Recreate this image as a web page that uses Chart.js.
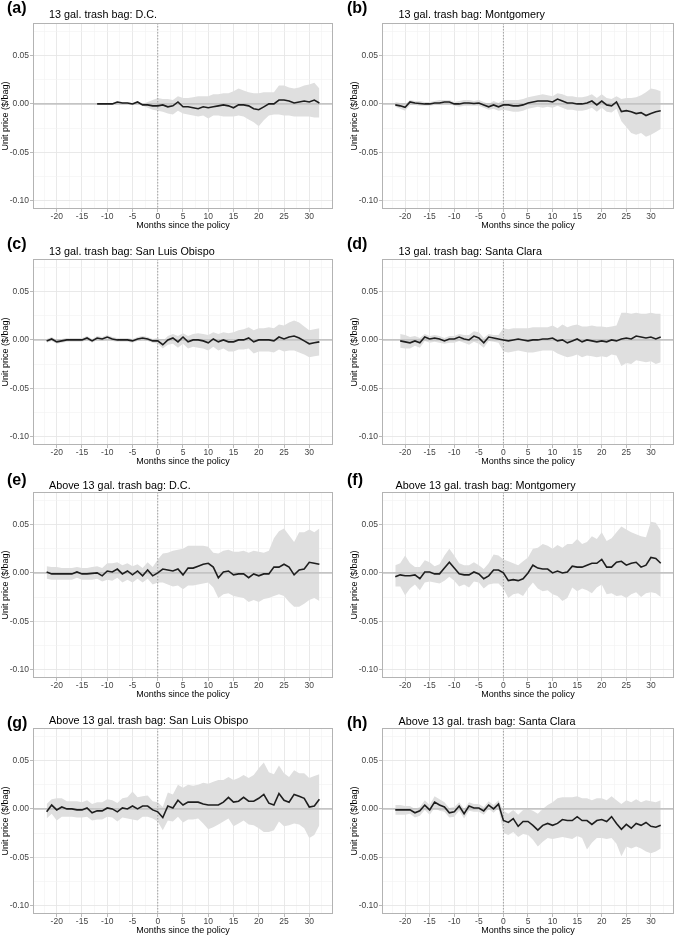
<!DOCTYPE html>
<html>
<head>
<meta charset="utf-8">
<script src="https://cdn.jsdelivr.net/npm/chart.js@4.4.1/dist/chart.umd.min.js"></script>
<style>
    html, body { margin: 0; padding: 0; background: #fff; overflow: hidden; }
    body { width: 685px; height: 936px; position: relative; }
    .panel { position: absolute; }
</style>
</head>
<body>
<script>
// months relative to the policy (all series end at month 32)
const MONTHS = [-22, -21, -20, -19, -18, -17, -16, -15, -14, -13, -12, -11, -10, -9, -8, -7, -6, -5, -4, -3, -2, -1,
    0, 1, 2, 3, 4, 5, 6, 7, 8, 9, 10, 11, 12, 13, 14, 15, 16, 17, 18, 19, 20, 21, 22, 23, 24, 25, 26, 27, 28, 29, 30, 31, 32];

const X_MAJOR = [-20, -15, -10, -5, 0, 5, 10, 15, 20, 25, 30];
const X_MINOR = [-22.5, -17.5, -12.5, -7.5, -2.5, 2.5, 7.5, 12.5, 17.5, 22.5, 27.5, 32.5];
const Y_MAJOR = [-0.10, -0.05, 0, 0.05];
const Y_MINOR = [-0.075, -0.025, 0.025, 0.075];
const X_RANGE = [-24.7, 34.7];
const Y_RANGE = [-0.10875, 0.08375];

const LETTERS = ["(a)", "(b)", "(c)", "(d)", "(e)", "(f)", "(g)", "(h)"];
const TITLES = [
    "13 gal. trash bag: D.C.",
    "13 gal. trash bag: Montgomery",
    "13 gal. trash bag: San Luis Obispo",
    "13 gal. trash bag: Santa Clara",
    "Above 13 gal. trash bag: D.C.",
    "Above 13 gal. trash bag: Montgomery",
    "Above 13 gal. trash bag: San Luis Obispo",
    "Above 13 gal. trash bag: Santa Clara",
];

// (a) starts at month -12
const A_EST = [0.000, 0.000, 0.000, 0.000, 0.002, 0.001, 0.001, 0.000, 0.002, -0.001,
    -0.001, -0.002, -0.002, -0.001, -0.003, -0.002, 0.002, -0.003, -0.003, -0.004, -0.005, -0.003, -0.004, -0.003, -0.002, -0.001, -0.002, -0.004, -0.001, -0.001, -0.002, -0.005, -0.006, -0.003, 0.000, 0.000, 0.004, 0.004, 0.003, 0.001, 0.002, 0.003, 0.002, 0.004, 0.001];
const A_LO = [-0.001, -0.001, -0.001, -0.001, 0.001, 0.000, 0.000, -0.001, 0.001, -0.002,
    -0.004, -0.006, -0.007, -0.008, -0.010, -0.011, -0.007, -0.010, -0.011, -0.012, -0.013, -0.012, -0.015, -0.012, -0.012, -0.013, -0.013, -0.013, -0.012, -0.013, -0.016, -0.019, -0.023, -0.017, -0.012, -0.011, -0.011, -0.012, -0.012, -0.013, -0.013, -0.013, -0.013, -0.014, -0.014];
const A_HI = [0.001, 0.001, 0.001, 0.001, 0.003, 0.002, 0.002, 0.001, 0.003, 0.000,
    0.002, 0.004, 0.006, 0.005, 0.005, 0.004, 0.008, 0.006, 0.006, 0.007, 0.008, 0.008, 0.008, 0.010, 0.010, 0.011, 0.011, 0.013, 0.016, 0.014, 0.012, 0.011, 0.011, 0.012, 0.012, 0.012, 0.019, 0.019, 0.017, 0.016, 0.017, 0.019, 0.020, 0.022, 0.016];

const B_EST = [-0.001, -0.002, -0.0035, 0.002, 0.001, 0.0005, 0.000, 0.000, 0.001, 0.001, 0.002, 0.002, 0.000, 0.000, 0.001, 0.001, 0.0005, 0.001, -0.001, -0.003, -0.001, -0.003,
    -0.001, -0.001, -0.002, -0.002, -0.001, 0.001, 0.002, 0.003, 0.003, 0.003, 0.002, 0.005, 0.003, 0.001, 0.001, 0.000, 0.000, 0.001, 0.003, -0.001, 0.003, -0.001, -0.002, 0.002, -0.008, -0.007, -0.008, -0.010, -0.009, -0.012, -0.010, -0.008, -0.007];
const B_LO = [-0.003, -0.005, -0.007, -0.001, -0.001, -0.002, -0.002, -0.002, -0.001, -0.001, 0.000, 0.000, -0.002, -0.003, -0.002, -0.002, -0.002, -0.002, -0.004, -0.006, -0.005, -0.007,
    -0.006, -0.007, -0.008, -0.008, -0.007, -0.005, -0.004, -0.003, -0.004, -0.003, -0.004, -0.002, -0.004, -0.006, -0.006, -0.007, -0.007, -0.006, -0.004, -0.008, -0.004, -0.008, -0.009, -0.005, -0.018, -0.024, -0.030, -0.032, -0.030, -0.034, -0.032, -0.029, -0.026];
const B_HI = [0.002, 0.001, 0.000, 0.004, 0.003, 0.003, 0.002, 0.002, 0.003, 0.004, 0.004, 0.004, 0.002, 0.003, 0.004, 0.004, 0.003, 0.004, 0.002, 0.000, 0.003, 0.001,
    0.004, 0.004, 0.004, 0.004, 0.005, 0.007, 0.008, 0.009, 0.010, 0.009, 0.008, 0.011, 0.010, 0.008, 0.008, 0.007, 0.007, 0.008, 0.010, 0.006, 0.010, 0.006, 0.005, 0.008, 0.005, 0.006, 0.006, 0.007, 0.009, 0.012, 0.016, 0.015, 0.013];

const C_EST = [-0.001, 0.001, -0.002, -0.001, 0.000, 0.000, 0.000, 0.000, 0.002, -0.001, 0.002, 0.001, 0.003, 0.001, 0.000, 0.000, 0.000, -0.001, 0.001, 0.002, 0.001, -0.001,
    -0.001, -0.005, 0.000, 0.002, -0.002, 0.003, -0.002, 0.000, 0.000, -0.001, -0.003, 0.001, -0.002, 0.000, -0.002, -0.002, 0.000, 0.000, 0.002, -0.002, 0.000, 0.000, 0.000, -0.001, 0.003, 0.001, 0.003, 0.004, 0.002, -0.001, -0.004, -0.003, -0.002];
const C_LO = [-0.003, -0.001, -0.004, -0.003, -0.002, -0.002, -0.002, -0.002, 0.000, -0.003, 0.000, -0.001, 0.001, -0.001, -0.002, -0.002, -0.002, -0.003, -0.001, 0.000, -0.001, -0.003,
    -0.004, -0.009, -0.005, -0.004, -0.008, -0.004, -0.009, -0.007, -0.008, -0.009, -0.011, -0.007, -0.011, -0.009, -0.012, -0.012, -0.010, -0.010, -0.009, -0.014, -0.012, -0.012, -0.012, -0.013, -0.010, -0.012, -0.011, -0.011, -0.013, -0.015, -0.018, -0.017, -0.016];
const C_HI = [0.001, 0.003, 0.000, 0.001, 0.002, 0.002, 0.002, 0.002, 0.004, 0.001, 0.004, 0.003, 0.005, 0.003, 0.002, 0.002, 0.002, 0.001, 0.003, 0.004, 0.003, 0.001,
    0.002, -0.001, 0.004, 0.006, 0.004, 0.007, 0.004, 0.006, 0.007, 0.006, 0.005, 0.008, 0.006, 0.008, 0.007, 0.008, 0.010, 0.011, 0.013, 0.010, 0.012, 0.012, 0.013, 0.012, 0.016, 0.015, 0.018, 0.020, 0.018, 0.014, 0.010, 0.011, 0.012];

// (d) starts at month -21
const D_EST = [-0.001, -0.002, -0.003, -0.001, -0.003, 0.003, 0.001, 0.002, 0.001, -0.001, 0.001, 0.001, 0.003, 0.001, 0.000, 0.004, 0.002, -0.003, 0.003, 0.002, 0.001,
    0.000, -0.001, 0.000, 0.001, 0.000, -0.001, 0.000, 0.000, 0.001, 0.001, 0.002, -0.001, 0.000, -0.003, -0.001, 0.001, -0.002, 0.000, -0.001, -0.002, -0.001, -0.002, 0.000, -0.001, 0.001, 0.002, 0.001, 0.004, 0.003, 0.002, 0.003, 0.001, 0.003];
const D_LO = [-0.008, -0.009, -0.009, -0.006, -0.008, -0.001, -0.003, -0.002, -0.003, -0.004, -0.003, -0.003, -0.001, -0.003, -0.005, -0.002, -0.004, -0.008, -0.001, -0.002, -0.003,
    -0.012, -0.013, -0.012, -0.011, -0.012, -0.013, -0.013, -0.012, -0.011, -0.011, -0.011, -0.014, -0.016, -0.018, -0.017, -0.015, -0.018, -0.016, -0.017, -0.018, -0.017, -0.018, -0.015, -0.016, -0.027, -0.024, -0.025, -0.021, -0.022, -0.023, -0.022, -0.025, -0.023];
const D_HI = [0.006, 0.005, 0.003, 0.004, 0.002, 0.006, 0.004, 0.005, 0.004, 0.002, 0.004, 0.004, 0.006, 0.005, 0.005, 0.009, 0.008, 0.002, 0.006, 0.005, 0.005,
    0.012, 0.011, 0.012, 0.012, 0.012, 0.012, 0.013, 0.013, 0.013, 0.013, 0.015, 0.012, 0.016, 0.013, 0.015, 0.016, 0.014, 0.014, 0.015, 0.014, 0.014, 0.013, 0.014, 0.015, 0.028, 0.028, 0.027, 0.028, 0.027, 0.027, 0.028, 0.027, 0.027];

const E_EST = [0.001, -0.001, -0.001, -0.001, -0.001, -0.001, 0.001, -0.001, -0.001, -0.0005, 0.000, -0.003, 0.002, 0.001, 0.004, -0.001, 0.002, -0.002, 0.002, -0.003, 0.003, -0.003,
    0.000, 0.004, 0.003, 0.002, 0.004, -0.002, 0.005, 0.005, 0.007, 0.009, 0.010, 0.006, -0.005, 0.001, 0.002, -0.002, -0.001, -0.001, -0.005, -0.001, -0.003, -0.001, -0.001, 0.006, 0.006, 0.009, 0.006, -0.002, 0.003, 0.004, 0.011, 0.010, 0.009];
const E_LO = [-0.006, -0.007, -0.007, -0.007, -0.007, -0.007, -0.005, -0.007, -0.007, -0.007, -0.006, -0.009, -0.007, -0.008, -0.005, -0.010, -0.007, -0.010, -0.006, -0.010, -0.006, -0.012,
    -0.010, -0.010, -0.012, -0.014, -0.013, -0.017, -0.013, -0.013, -0.012, -0.011, -0.010, -0.015, -0.026, -0.022, -0.021, -0.024, -0.025, -0.026, -0.030, -0.028, -0.030, -0.027, -0.026, -0.024, -0.022, -0.024, -0.030, -0.035, -0.035, -0.032, -0.028, -0.026, -0.029];
const E_HI = [0.007, 0.006, 0.006, 0.005, 0.005, 0.005, 0.006, 0.005, 0.005, 0.006, 0.007, 0.005, 0.010, 0.010, 0.011, 0.008, 0.010, 0.007, 0.009, 0.005, 0.011, 0.006,
    0.014, 0.020, 0.021, 0.023, 0.024, 0.025, 0.028, 0.028, 0.028, 0.028, 0.027, 0.021, 0.020, 0.023, 0.024, 0.022, 0.022, 0.023, 0.021, 0.023, 0.022, 0.021, 0.023, 0.036, 0.043, 0.046, 0.039, 0.032, 0.042, 0.042, 0.045, 0.042, 0.046];

const F_EST = [-0.004, -0.002, -0.003, -0.003, -0.002, -0.006, 0.001, 0.001, -0.001, -0.001, 0.005, 0.011, 0.005, -0.001, -0.002, -0.002, 0.001, -0.001, -0.006, -0.003, 0.003, 0.003,
    0.000, -0.008, -0.007, -0.008, -0.006, 0.000, 0.008, 0.005, 0.004, 0.004, 0.000, 0.002, 0.000, 0.001, 0.007, 0.006, 0.006, 0.008, 0.010, 0.010, 0.014, 0.006, 0.006, 0.011, 0.012, 0.008, 0.010, 0.011, 0.006, 0.008, 0.016, 0.015, 0.010];
const F_LO = [-0.014, -0.014, -0.023, -0.016, -0.012, -0.018, -0.010, -0.009, -0.010, -0.011, -0.008, -0.004, -0.008, -0.014, -0.012, -0.015, -0.009, -0.010, -0.016, -0.012, -0.011, -0.011,
    -0.016, -0.026, -0.022, -0.021, -0.024, -0.016, -0.010, -0.016, -0.019, -0.018, -0.022, -0.024, -0.029, -0.026, -0.015, -0.019, -0.016, -0.018, -0.021, -0.015, -0.012, -0.022, -0.021, -0.024, -0.023, -0.026, -0.022, -0.020, -0.025, -0.021, -0.020, -0.021, -0.025];
const F_HI = [0.008, 0.010, 0.018, 0.010, 0.006, 0.006, 0.013, 0.011, 0.007, 0.009, 0.018, 0.025, 0.018, 0.010, 0.008, 0.008, 0.011, 0.008, 0.004, 0.010, 0.019, 0.018,
    0.014, 0.012, 0.010, 0.008, 0.012, 0.016, 0.025, 0.026, 0.030, 0.028, 0.025, 0.029, 0.026, 0.030, 0.030, 0.035, 0.030, 0.032, 0.038, 0.035, 0.042, 0.033, 0.036, 0.042, 0.048, 0.045, 0.042, 0.040, 0.038, 0.037, 0.053, 0.052, 0.044];

const G_EST = [-0.003, 0.004, -0.001, 0.002, 0.000, 0.000, -0.001, -0.001, 0.001, -0.004, -0.002, -0.002, 0.001, 0.000, -0.003, 0.001, 0.000, 0.003, 0.000, 0.003, 0.003, -0.001,
    -0.003, -0.009, 0.003, 0.001, 0.009, 0.004, 0.007, 0.007, 0.007, 0.005, 0.004, 0.004, 0.004, 0.007, 0.012, 0.007, 0.008, 0.012, 0.008, 0.008, 0.011, 0.015, 0.006, 0.004, 0.016, 0.009, 0.007, 0.015, 0.013, 0.011, 0.002, 0.003, 0.010];
const G_LO = [-0.010, -0.005, -0.012, -0.008, -0.008, -0.008, -0.009, -0.009, -0.008, -0.012, -0.011, -0.011, -0.008, -0.009, -0.013, -0.009, -0.010, -0.011, -0.012, -0.008, -0.008, -0.010,
    -0.013, -0.022, -0.012, -0.013, -0.008, -0.014, -0.011, -0.011, -0.010, -0.015, -0.021, -0.019, -0.016, -0.013, -0.010, -0.018, -0.015, -0.012, -0.016, -0.017, -0.020, -0.024, -0.024, -0.022, -0.013, -0.018, -0.017, -0.015, -0.016, -0.020, -0.030, -0.027, -0.017];
const G_HI = [0.005, 0.010, 0.011, 0.011, 0.008, 0.008, 0.008, 0.007, 0.009, 0.005, 0.007, 0.007, 0.010, 0.009, 0.006, 0.011, 0.012, 0.018, 0.012, 0.013, 0.014, 0.008,
    0.007, 0.002, 0.017, 0.015, 0.025, 0.022, 0.025, 0.024, 0.025, 0.027, 0.026, 0.028, 0.030, 0.030, 0.033, 0.030, 0.032, 0.035, 0.032, 0.035, 0.042, 0.048, 0.038, 0.036, 0.045, 0.037, 0.033, 0.040, 0.037, 0.037, 0.032, 0.034, 0.036];

const H_EST = [-0.001, -0.001, -0.001, -0.001, -0.004, -0.002, 0.004, -0.001, 0.007, 0.004, 0.002, -0.004, -0.003, 0.003, -0.005, 0.003, 0.001, 0.001, -0.002, 0.004, 0.000, 0.005,
    -0.012, -0.014, -0.010, -0.018, -0.013, -0.013, -0.017, -0.022, -0.017, -0.015, -0.017, -0.015, -0.011, -0.012, -0.012, -0.008, -0.012, -0.012, -0.016, -0.012, -0.011, -0.013, -0.008, -0.015, -0.021, -0.016, -0.020, -0.015, -0.017, -0.014, -0.018, -0.019, -0.017];
const H_LO = [-0.006, -0.006, -0.006, -0.005, -0.009, -0.007, -0.001, -0.006, 0.001, -0.002, -0.003, -0.009, -0.008, -0.002, -0.010, -0.002, -0.003, -0.003, -0.006, 0.000, -0.004, 0.001,
    -0.025, -0.027, -0.024, -0.029, -0.026, -0.027, -0.032, -0.039, -0.034, -0.030, -0.031, -0.030, -0.029, -0.030, -0.031, -0.028, -0.030, -0.042, -0.035, -0.030, -0.030, -0.031, -0.030, -0.036, -0.049, -0.039, -0.041, -0.039, -0.041, -0.044, -0.046, -0.044, -0.041];
const H_HI = [0.004, 0.004, 0.003, 0.003, 0.000, 0.002, 0.009, 0.004, 0.013, 0.010, 0.007, 0.001, 0.002, 0.007, 0.000, 0.007, 0.005, 0.005, 0.002, 0.008, 0.004, 0.009,
    -0.002, -0.005, -0.001, -0.006, -0.001, 0.000, -0.002, -0.005, 0.000, 0.004, 0.007, 0.011, 0.012, 0.012, 0.012, 0.013, 0.011, 0.011, 0.009, 0.011, 0.011, 0.009, 0.013, 0.009, 0.005, 0.009, 0.007, 0.010, 0.007, 0.009, 0.008, 0.007, 0.009];

const SERIES = [
    [A_EST, A_LO, A_HI], [B_EST, B_LO, B_HI],
    [C_EST, C_LO, C_HI], [D_EST, D_LO, D_HI],
    [E_EST, E_LO, E_HI], [F_EST, F_LO, F_HI],
    [G_EST, G_LO, G_HI], [H_EST, H_LO, H_HI],
];

// where each panel sits on the page
const PANEL_H = 237;
const LAYOUT = [
    {left: 0,   top: 0,   width: 340, padL: 0, padR: 7,  letterDy: -10.4, titleDx: 16,   titleDy: -4.7},
    {left: 340, top: 0,   width: 345, padL: 9, padR: 11, letterDy: -10.4, titleDx: 16.5, titleDy: -4.7},
    {left: 0,   top: 236, width: 340, padL: 0, padR: 7,  letterDy: -9.7,  titleDx: 16,   titleDy: -4.4},
    {left: 340, top: 236, width: 345, padL: 9, padR: 11, letterDy: -9.7,  titleDx: 16.5, titleDy: -4.4},
    {left: 0,   top: 469, width: 340, padL: 0, padR: 7,  letterDy: -7.4,  titleDx: 16,   titleDy: -3.3},
    {left: 340, top: 469, width: 345, padL: 9, padR: 11, letterDy: -7.4,  titleDx: 13.5, titleDy: -3.3},
    {left: 0,   top: 705, width: 340, padL: 0, padR: 7,  letterDy: 0,     titleDx: 16,   titleDy: -3.6},
    {left: 340, top: 705, width: 345, padL: 9, padR: 11, letterDy: 0,     titleDx: 16.5, titleDy: -3.4},
];

const FONT = '"Liberation Sans", Arial, Helvetica, sans-serif';
Chart.defaults.font.family = FONT;

function toPoints(values) {
    let first = MONTHS.length - values.length;
    return values.map((v, i) => ({x: MONTHS[first + i], y: v}));
}

// zero line + policy line between ribbon and estimate, panel frame and titles on top
const panelDecor = {
    id: 'panelDecor',
    afterDatasetDraw(chart, args) {
        if (args.index !== 1) return;
        const {ctx, chartArea: a, scales: {x, y}} = chart;
        ctx.save();
        ctx.beginPath();
        ctx.rect(a.left, a.top, a.width, a.height);
        ctx.clip();

        let y0 = y.getPixelForValue(0);
        ctx.beginPath();
        ctx.strokeStyle = '#c4c4c4';
        ctx.lineWidth = 1.8;
        ctx.moveTo(a.left, y0);
        ctx.lineTo(a.right, y0);
        ctx.stroke();

        let x0 = x.getPixelForValue(0);
        ctx.beginPath();
        ctx.strokeStyle = '#9a9a9a';
        ctx.lineWidth = 0.9;
        ctx.setLineDash([1.5, 1.5]);
        ctx.moveTo(x0, a.top);
        ctx.lineTo(x0, a.bottom);
        ctx.stroke();
        ctx.restore();
    },
    afterDraw(chart, args, opts) {
        const {ctx, chartArea: a} = chart;
        ctx.save();
        ctx.strokeStyle = '#b3b3b3';
        ctx.lineWidth = 1;
        ctx.strokeRect(Math.round(a.left) + 0.5, Math.round(a.top) + 0.5,
            Math.round(a.width) - 1, Math.round(a.height) - 1);

        ctx.fillStyle = '#000';
        ctx.textBaseline = 'alphabetic';
        ctx.font = 'bold 16px ' + FONT;
        ctx.fillText(opts.letter, 7, a.top + opts.letterDy);
        ctx.font = '10.8px ' + FONT;
        ctx.fillText(opts.title, a.left + opts.titleDx, a.top + opts.titleDy);
        ctx.restore();
    }
};

function gridColor(major) {
    return function (context) {
        return major.includes(context.tick.value) ? '#e6e6e6' : '#f1f1f1';
    };
}

function makeConfig(index) {
    let box = LAYOUT[index];
    let [est, lo, hi] = SERIES[index];

    return {
        type: 'line',
        data: {
            datasets: [
                {
                    label: 'estimate',
                    data: toPoints(est),
                    borderColor: '#1e1e1e',
                    borderWidth: 1.6,
                    pointRadius: 0,
                    fill: false,
                },
                {
                    label: 'upper',
                    data: toPoints(hi),
                    borderColor: 'rgba(0,0,0,0)',
                    borderWidth: 0,
                    pointRadius: 0,
                    backgroundColor: '#dfdfdf',
                    fill: '+1',
                },
                {
                    label: 'lower',
                    data: toPoints(lo),
                    borderColor: 'rgba(0,0,0,0)',
                    borderWidth: 0,
                    pointRadius: 0,
                    fill: false,
                },
            ]
        },
        options: {
            responsive: false,
            animation: false,
            events: [],
            layout: {
                padding: {left: box.padL, right: box.padR, top: 23, bottom: 0}
            },
            plugins: {
                legend: {display: false},
                tooltip: {enabled: false},
                panelDecor: {
                    letter: LETTERS[index],
                    title: TITLES[index],
                    letterDy: box.letterDy,
                    titleDx: box.titleDx,
                    titleDy: box.titleDy,
                },
            },
            scales: {
                x: {
                    type: 'linear',
                    min: X_RANGE[0],
                    max: X_RANGE[1],
                    afterBuildTicks: function (scale) {
                        scale.ticks = X_MINOR.concat(X_MAJOR).sort((p, q) => p - q).map(v => ({value: v}));
                    },
                    afterFit: function (scale) {
                        scale.height = 28;
                    },
                    border: {display: false},
                    grid: {
                        color: gridColor(X_MAJOR),
                        lineWidth: ctx => X_MAJOR.includes(ctx.tick.value) ? 0.9 : 0.6,
                        tickLength: 3,
                        tickColor: ctx => X_MAJOR.includes(ctx.tick.value) ? '#b3b3b3' : 'rgba(0,0,0,0)',
                    },
                    ticks: {
                        autoSkip: false,
                        maxRotation: 0,
                        padding: 0,
                        color: '#444',
                        font: {size: 8.5},
                        callback: function (value) {
                            return X_MAJOR.includes(value) ? String(value) : '';
                        }
                    },
                    title: {
                        display: true,
                        text: 'Months since the policy',
                        color: '#000',
                        font: {size: 9},
                        padding: {top: 0, bottom: 6},
                    },
                },
                y: {
                    min: Y_RANGE[0],
                    max: Y_RANGE[1],
                    afterBuildTicks: function (scale) {
                        scale.ticks = Y_MINOR.concat(Y_MAJOR).sort((p, q) => p - q).map(v => ({value: v}));
                    },
                    afterFit: function (scale) {
                        scale.width = 33;
                    },
                    border: {display: false},
                    grid: {
                        color: gridColor(Y_MAJOR),
                        lineWidth: ctx => Y_MAJOR.includes(ctx.tick.value) ? 0.9 : 0.6,
                        tickLength: 3,
                        tickColor: ctx => Y_MAJOR.includes(ctx.tick.value) ? '#b3b3b3' : 'rgba(0,0,0,0)',
                    },
                    ticks: {
                        autoSkip: false,
                        padding: 1,
                        color: '#444',
                        font: {size: 8.5},
                        callback: function (value) {
                            return Y_MAJOR.includes(value) ? value.toFixed(2) : '';
                        }
                    },
                    title: {
                        display: true,
                        text: 'Unit price ($/bag)',
                        color: '#000',
                        font: {size: 9},
                        padding: {top: 0, bottom: 0},
                    },
                },
            }
        },
        plugins: [panelDecor],
    };
}

LAYOUT.forEach(function (box, index) {
    let canvas = document.createElement('canvas');
    canvas.className = 'panel';
    canvas.width = box.width;
    canvas.height = PANEL_H;
    canvas.style.left = box.left + 'px';
    canvas.style.top = box.top + 'px';
    document.body.appendChild(canvas);
    new Chart(canvas, makeConfig(index));
});
</script>
</body>
</html>
